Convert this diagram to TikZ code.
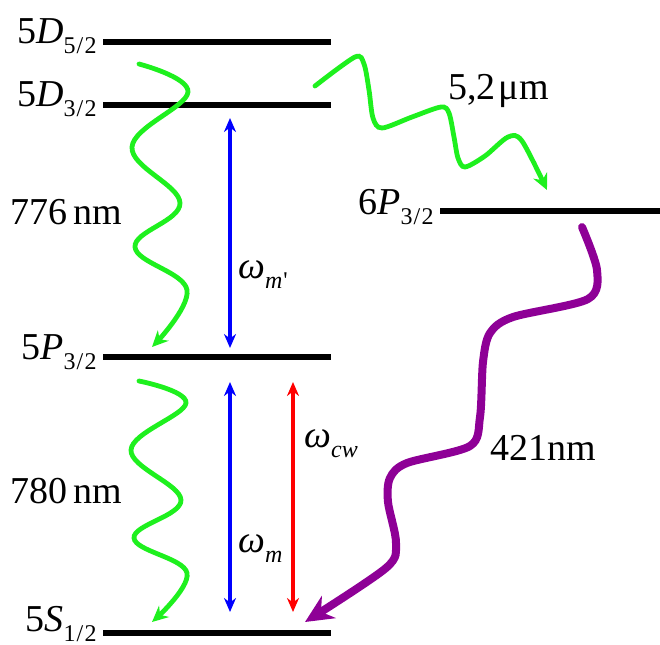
\documentclass[tikz,border=0pt]{standalone}
\usepackage{fontspec}
\setmainfont{Liberation Serif}
\usetikzlibrary{arrows.meta}
\definecolor{wavegreen}{HTML}{1EF01E}
\definecolor{bluefld}{HTML}{0000FF}
\definecolor{redfld}{HTML}{FF0000}
\definecolor{violet}{HTML}{8E0096}

% subscript of a term or a frequency
\newcommand{\lvsub}[1]{\raisebox{-5pt}{\fontsize{12}{12}\selectfont #1}}
\newcommand{\half}[1]{#1{\kern0.6pt}/{\kern0.6pt}2}

\begin{document}
\begin{tikzpicture}[
  x=0.5pt, y=-0.5pt,
  level/.style={line width=3pt},
  lvlabel/.style={font=\fontsize{19}{22}\selectfont, inner sep=0pt, anchor=base east},
  txt/.style={font=\fontsize{19}{22}\selectfont, inner sep=0pt, anchor=base west},
  decay/.style={wavegreen, line width=2.4pt, line cap=round, -{Stealth[length=8pt, width=7.5pt]}},
  blue decay/.style={violet, line width=4pt, line cap=round, -{Stealth[length=14pt, width=13pt]}},
  field/.style={line width=1.7pt, {Stealth[length=7pt, width=6pt]}-{Stealth[length=7pt, width=6pt]}},
]
\useasboundingbox (0,0) rectangle (660,644);

% ============ Levels ============
\coordinate (d52l) at (103,42);  \coordinate (d52r) at (331,42);
\coordinate (d32l) at (103,105); \coordinate (d32r) at (331,105);
\coordinate (p32l) at (103,357); \coordinate (p32r) at (331,357);
\coordinate (s12l) at (103,633); \coordinate (s12r) at (331,633);
\coordinate (p6l)  at (440,211); \coordinate (p6r)  at (660,211);

\draw[level] (d52l) -- (d52r);
\draw[level] (d32l) -- (d32r);
\draw[level] (p32l) -- (p32r);
\draw[level] (s12l) -- (s12r);
\draw[level] (p6l) -- (p6r);

\node[lvlabel] (d52) at (97,43)  {5\textit{D}\lvsub{\half{5}}};
\node[lvlabel] (d32) at (97,106) {5\textit{D}\lvsub{\half{3}}};
\node[lvlabel] (p32) at (97,359) {5\textit{P}\lvsub{\half{3}}};
\node[lvlabel] (s12) at (97,631) {5\textit{S}\lvsub{\half{1}}};
\node[lvlabel] (p6)  at (434,214) {6\textit{P}\lvsub{\half{3}}};

% ============ Coupling fields ============
\coordinate (mpt) at (230,118); \coordinate (mpb) at (230,348);
\coordinate (mt)  at (230,382); \coordinate (mb)  at (230,612);
\coordinate (cwt) at (293,382); \coordinate (cwb) at (293,612);

\draw[field, bluefld] (mpt) -- (mpb);
\draw[field, bluefld] (mt) -- (mb);
\draw[field, redfld] (cwt) -- (cwb);

\node[txt] (wmp) at (238,278) {\textit{ω}\lvsub{\textit{m}\kern0.4pt\textquotesingle}};
\node[txt] (wm)  at (238,552) {\textit{ω}\lvsub{\textit{m}}};
\node[txt] (wcw) at (304,447) {\textit{ω}\lvsub{\textit{cw}}};

% ============ Decays ============
\coordinate (g1s) at (139,64);  \coordinate (g1e) at (152,347);
\coordinate (g2s) at (139,381); \coordinate (g2e) at (152,622);
\coordinate (g3s) at (315,86);  \coordinate (g3e) at (547,190);
\coordinate (vs)  at (582,227); \coordinate (ve)  at (305,622);

% 776 nm
\draw[decay] plot[smooth, tension=0.65] coordinates
  {(g1s) (188,92) (132,147) (180,203) (135,247) (187,290) (g1e)};
% 780 nm
\draw[decay] plot[smooth, tension=0.65] coordinates
  {(g2s) (186,403) (131,450) (181,500) (134,538) (187,573) (g2e)};
% 5,2 um
\draw[decay] plot[smooth, tension=0.5] coordinates
  {(g3s) (355,57) (364,64) (369,90) (373,118) (382,128) (412,117)
   (441,107) (449,113) (454,137) (458,158) (465,167) (485,156)
   (508,137) (522,141) (g3e)};
% 421 nm
\draw[blue decay] plot[smooth, tension=0.5] coordinates
  {(vs) (597,270) (588,299) (513,317) (490,333) (483,362) (480,417)
   (470,446) (407,463) (390,478) (388,502) (396,543) (386,568) (ve)};

\node[txt] (l776) at (10,224) {776\,nm};
\node[txt] (l780) at (10,503) {780\,nm};
\node[txt] (l52)  at (448,99) {5,2{\kern1.5pt}μm};
\node[txt] (l421) at (490,460) {421nm};

\end{tikzpicture}
\end{document}
